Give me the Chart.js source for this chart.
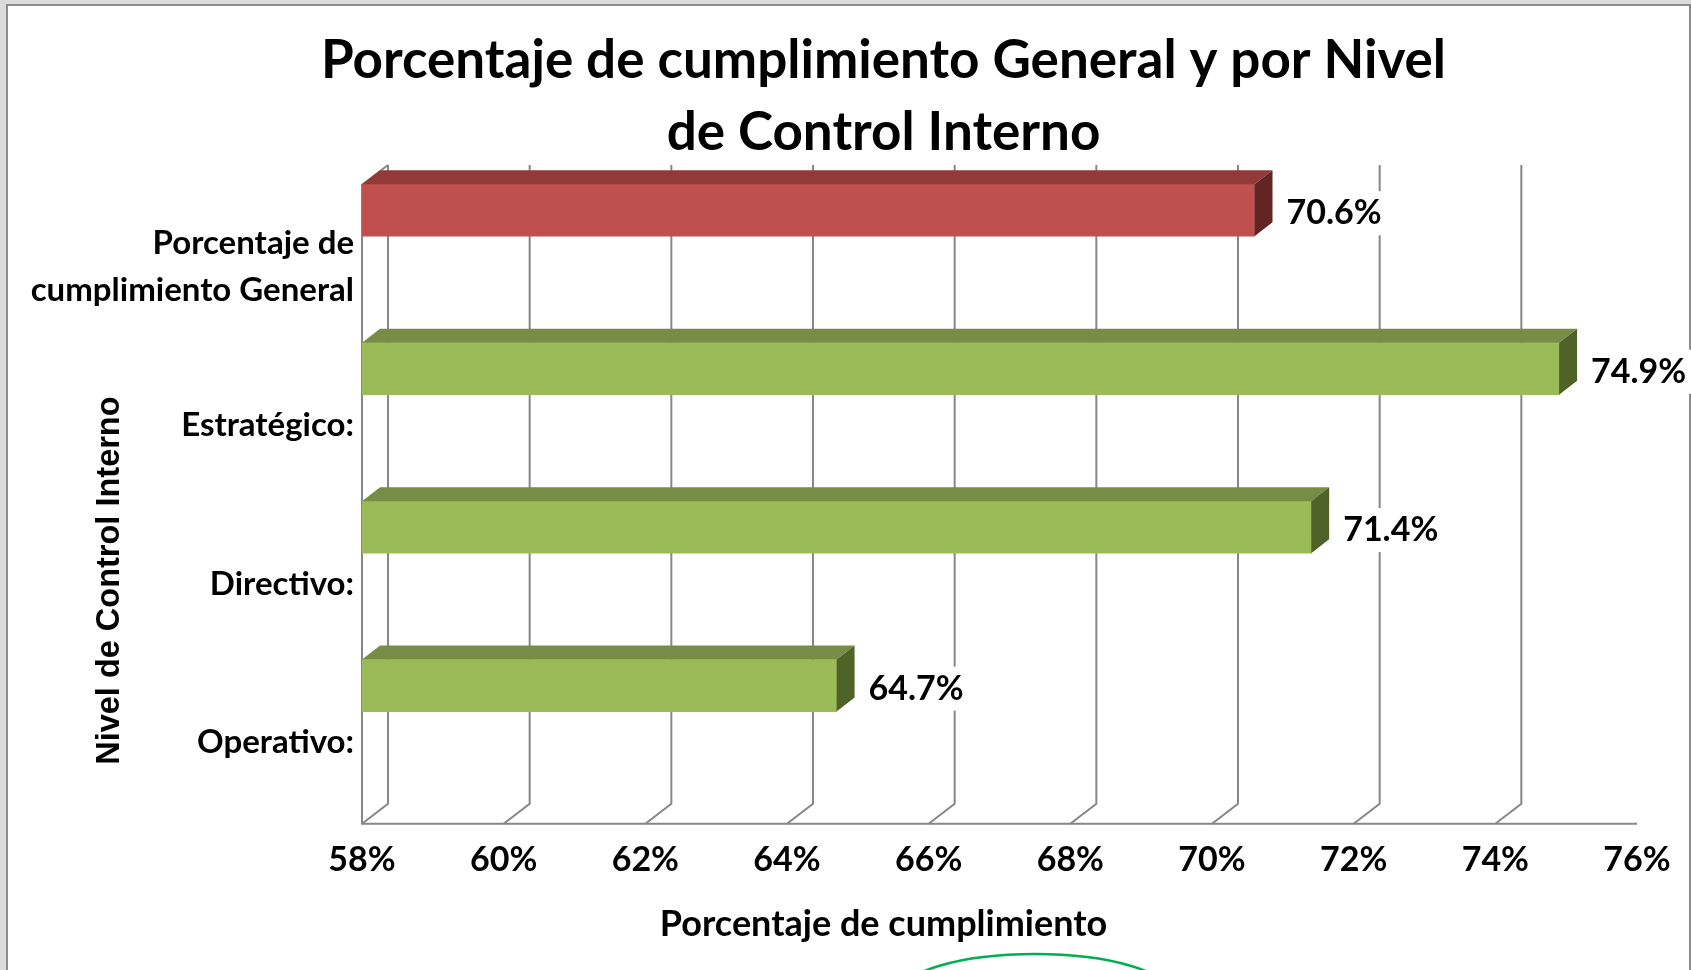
<!DOCTYPE html>
<html>
<head>
<meta charset="utf-8">
<script src="https://cdn.jsdelivr.net/npm/chart.js@4.4.0/dist/chart.umd.min.js"></script>
<style>
  html, body { margin: 0; padding: 0; background: #fff; }
  canvas { display: block; }
</style>
</head>
<body>
<canvas id="nivelChart" width="1691" height="970"></canvas>
<script>
// datos
const niveles = [["Porcentaje de", "cumplimiento General"], "Estratégico:", "Directivo:", "Operativo:"];
const cumplimiento = [70.6, 74.9, 71.4, 64.7];
const ejeTicks = [58, 60, 62, 64, 66, 68, 70, 72, 74, 76];

const coloresFrente = ["#C0504D", "#9BBB59", "#9BBB59", "#9BBB59"];
const coloresArriba = ["#933A38", "#778D46", "#778D46", "#778D46"];
const coloresLado = ["#632523", "#4F6228", "#4F6228", "#4F6228"];

const GRIS = "#878787";

// dibuja marco, paredes 3D, caras de las barras y etiquetas
const efecto3d = {
    id: "efecto3d",
    beforeDraw(chart) {
        const ctx = chart.ctx;
        const w = chart.width, h = chart.height;
        ctx.save();
        ctx.fillStyle = "#dcdcdc";
        ctx.fillRect(0, 0, w, h);
        ctx.fillStyle = "#fff";
        ctx.fillRect(8, 6, w - 9, h - 6);
        ctx.strokeStyle = "#8c8c8c";
        ctx.lineWidth = 2;
        ctx.beginPath();
        ctx.moveTo(7, h);
        ctx.lineTo(7, 5);
        ctx.lineTo(w - 1, 5);
        ctx.lineTo(w - 1, h);
        ctx.stroke();
        // trazo verde que asoma abajo
        ctx.strokeStyle = "#00B050";
        ctx.lineWidth = 2.5;
        ctx.beginPath();
        ctx.ellipse(1035, 994, 135, 40, 0, 0, Math.PI * 2);
        ctx.stroke();
        ctx.restore();
    },
    beforeDatasetsDraw(chart) {
        const {ctx, chartArea: area} = chart;
        const xs = chart.scales.x;
        const dx = 26, dy = -20;
        const pisoY = area.bottom + 59;
        const paredY = area.top + 54;
        ctx.save();
        ctx.strokeStyle = GRIS;
        ctx.lineWidth = 2;
        xs.ticks.forEach((t, i) => {
            if (i === xs.ticks.length - 1) return;
            const px = xs.getPixelForValue(t.value);
            ctx.beginPath();
            ctx.moveTo(px + dx, paredY + dy);
            ctx.lineTo(px + dx, pisoY + dy);
            ctx.lineTo(px, pisoY);
            ctx.stroke();
        });
        ctx.beginPath();
        ctx.moveTo(area.left + dx, paredY + dy);
        ctx.lineTo(area.left, paredY);
        ctx.lineTo(area.left, pisoY);
        ctx.lineTo(area.right, pisoY);
        ctx.stroke();
        ctx.restore();
    },
    afterDatasetsDraw(chart) {
        const ctx = chart.ctx;
        const meta = chart.getDatasetMeta(0);
        const bx = 18, by = -14;
        ctx.save();
        meta.data.forEach((bar, i) => {
            const {x, y, base, height} = bar.getProps(["x", "y", "base", "height"], true);
            const top = y - height / 2, bottom = y + height / 2;
            ctx.fillStyle = coloresArriba[i];
            ctx.beginPath();
            ctx.moveTo(base, top);
            ctx.lineTo(base + bx, top + by);
            ctx.lineTo(x + bx, top + by);
            ctx.lineTo(x, top);
            ctx.closePath();
            ctx.fill();
            ctx.fillStyle = coloresLado[i];
            ctx.beginPath();
            ctx.moveTo(x, top);
            ctx.lineTo(x + bx, top + by);
            ctx.lineTo(x + bx, bottom + by);
            ctx.lineTo(x, bottom);
            ctx.closePath();
            ctx.fill();

            const texto = cumplimiento[i].toFixed(1) + "%";
            ctx.font = "bold 34px Lato";
            const tw = ctx.measureText(texto).width;
            const tx = x + 32, ty = y + 3;
            ctx.fillStyle = "#fff";
            ctx.fillRect(tx - 5, ty - 22, tw + 10, 44);
            ctx.fillStyle = "#000";
            ctx.textAlign = "left";
            ctx.textBaseline = "middle";
            ctx.fillText(texto, tx, ty);
        });
        ctx.restore();
    }
};

Chart.defaults.font.family = "Lato";
Chart.defaults.color = "#000";

const ctx = document.getElementById("nivelChart").getContext("2d");

new Chart(ctx, {
    type: "bar",
    data: {
        labels: niveles,
        datasets: [{
            label: "Porcentaje de cumplimiento",
            data: cumplimiento,
            base: ejeTicks[0],
            backgroundColor: coloresFrente,
            borderWidth: 0,
            barThickness: 52
        }]
    },
    options: {
        indexAxis: "y",
        responsive: false,
        animation: false,
        devicePixelRatio: 1,
        // derecha negativa para centrar los titulos como en el original;
        // el margen real lo fija paddingRight del eje x
        layout: {padding: {left: 20, right: -56, top: 0, bottom: 0}},
        plugins: {
            legend: {display: false},
            tooltip: {enabled: false},
            title: {
                display: true,
                text: ["Porcentaje de cumplimiento General y por Nivel", "de Control Interno"],
                font: {size: 53, weight: "bold", lineHeight: "72px"},
                padding: {top: 25, bottom: -38}
            },
            subtitle: {
                display: true,
                position: "bottom",
                text: "Porcentaje de cumplimiento",
                font: {size: 36, weight: "bold"},
                padding: {top: 18, bottom: 24}
            }
        },
        scales: {
            x: {
                min: ejeTicks[0],
                max: ejeTicks[ejeTicks.length - 1],
                grid: {display: false, drawTicks: false},
                border: {display: false},
                ticks: {
                    stepSize: ejeTicks[1] - ejeTicks[0],
                    padding: 75,
                    font: {size: 34, weight: "bold"},
                    callback: v => v + "%"
                },
                afterFit: s => {
                    s.height = 120;
                    s.paddingLeft = 0;
                    s.paddingRight = 54;
                }
            },
            y: {
                grid: {display: false, drawTicks: false},
                border: {display: false},
                ticks: {
                    padding: 8,
                    labelOffset: 57,
                    font: {size: 33, weight: "bold", lineHeight: "47px"}
                },
                title: {
                    display: true,
                    text: "Nivel de Control Interno",
                    align: "start",
                    padding: {top: 71, bottom: 0},
                    font: {family: "Liberation Sans", size: 32.5, weight: "bold"}
                },
                afterFit: s => { s.width = 342; }
            }
        }
    },
    plugins: [efecto3d]
});
</script>
</body>
</html>
